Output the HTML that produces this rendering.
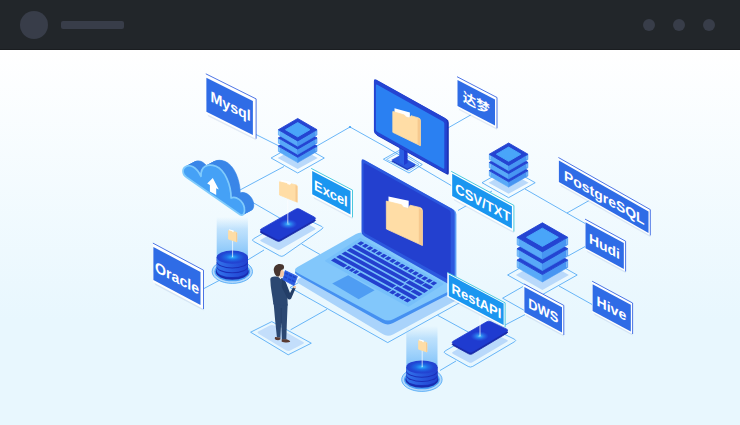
<!DOCTYPE html>
<html lang="zh"><head><meta charset="utf-8"><title>Data sources</title>
<style>
html,body{margin:0;padding:0}
body{width:740px;height:425px;overflow:hidden;background:#e8f7fe;font-family:'Liberation Sans','Noto Sans CJK SC',sans-serif;position:relative}
.hd{position:absolute;left:0;top:0;width:740px;height:49px;background:#22262a;border-bottom:1px solid #1a1d20}
.av{position:absolute;left:20px;top:11px;width:28px;height:28px;border-radius:50%;background:#383d49}
.bar{position:absolute;left:61px;top:21px;width:63px;height:8px;border-radius:2px;background:#383d49}
.dot{position:absolute;top:19px;width:12px;height:12px;border-radius:50%;background:#383d49}
.main{position:absolute;left:0;top:50px;width:740px;height:375px;background:linear-gradient(180deg,#ffffff 0%,#e8f7fe 72%,#e8f7fe 100%)}
svg{position:absolute;left:0;top:0}
text{font-family:'Liberation Sans','Noto Sans CJK SC',sans-serif}
</style></head><body>
<div class="hd"><div class="av"></div><div class="bar"></div>
<div class="dot" style="left:643px"></div><div class="dot" style="left:673px"></div><div class="dot" style="left:703px"></div></div>
<div class="main"></div>
<svg width="740" height="425" viewBox="0 0 740 425">
<defs>
<radialGradient id="glow"><stop offset="0" stop-color="#7fd4ff"/><stop offset="0.25" stop-color="#2f9bf5" stop-opacity="0.9"/><stop offset="1" stop-color="#2a6cf0" stop-opacity="0"/></radialGradient>
<radialGradient id="dbtop"><stop offset="0" stop-color="#5fd0ff"/><stop offset="0.12" stop-color="#2a9cf5"/><stop offset="0.4" stop-color="#1d6be6"/><stop offset="0.75" stop-color="#2148d4"/><stop offset="1" stop-color="#2340cf"/></radialGradient>
<linearGradient id="dbside" x1="0" x2="1" y1="0" y2="0"><stop offset="0" stop-color="#3273ea"/><stop offset="0.5" stop-color="#2858de"/><stop offset="1" stop-color="#2041cf"/></linearGradient>
<linearGradient id="beam" x1="0" x2="0" y1="0" y2="1"><stop offset="0" stop-color="#a8d6fb" stop-opacity="0"/><stop offset="0.3" stop-color="#a0d2fb" stop-opacity="0.6"/><stop offset="1" stop-color="#78bef9" stop-opacity="0.95"/></linearGradient>
</defs>
<polyline points="253.0,133.0 280.0,146.5" fill="none" stroke="#45a3f5" stroke-width="0.8"/>
<polyline points="316.0,146.5 350.0,127.0 384.0,146.0 452.0,186.0" fill="none" stroke="#45a3f5" stroke-width="0.8"/>
<circle cx="350" cy="127" r="1.1" fill="#45a3f5"/>
<polyline points="471.5,114.5 447.0,128.5" fill="none" stroke="#45a3f5" stroke-width="0.8"/>
<polyline points="240.0,190.0 284.0,166.5" fill="none" stroke="#45a3f5" stroke-width="0.8"/>
<polyline points="252.0,202.0 290.0,224.0" fill="none" stroke="#45a3f5" stroke-width="0.8"/>
<polyline points="301.6,244.0 320.0,254.5" fill="none" stroke="#45a3f5" stroke-width="0.8"/>
<polyline points="264.0,250.0 246.0,261.0" fill="none" stroke="#45a3f5" stroke-width="0.8"/>
<polyline points="204.0,288.5 220.0,280.0" fill="none" stroke="#45a3f5" stroke-width="0.8"/>
<polyline points="492.0,191.0 458.0,210.5" fill="none" stroke="#45a3f5" stroke-width="0.8"/>
<polyline points="525.0,189.0 586.0,224.0" fill="none" stroke="#45a3f5" stroke-width="0.8"/>
<polyline points="567.0,213.0 590.0,200.0" fill="none" stroke="#45a3f5" stroke-width="0.8"/>
<polyline points="568.0,256.0 586.0,246.0" fill="none" stroke="#45a3f5" stroke-width="0.8"/>
<polyline points="559.0,286.0 593.0,305.0" fill="none" stroke="#45a3f5" stroke-width="0.8"/>
<polyline points="523.0,286.5 502.6,298.2 525.0,310.8" fill="none" stroke="#45a3f5" stroke-width="0.8"/>
<polyline points="504.0,325.6 525.0,314.6" fill="none" stroke="#45a3f5" stroke-width="0.8"/>
<polyline points="437.6,315.3 470.0,333.0" fill="none" stroke="#45a3f5" stroke-width="0.8"/>
<polyline points="440.0,370.5 456.0,361.0" fill="none" stroke="#45a3f5" stroke-width="0.8"/>
<polyline points="290.6,329.8 327.0,309.3" fill="none" stroke="#45a3f5" stroke-width="0.8"/>
<polygon points="271.1,158.0 297.7,143.0 324.3,158.0 297.7,173.0" fill="none" stroke="#45a3f5" stroke-width="0.8" stroke-linejoin="round"/>
<polygon points="277.7,158.0 297.7,147.0 317.7,158.0 297.7,169.0" fill="#b9d9fb" />
<polygon points="278.4,146.1 297.7,157.3 297.7,162.6 278.4,151.4" fill="#58a9f8" stroke="#58a9f8" stroke-width="0.6" stroke-linejoin="round"/>
<polygon points="317.0,146.1 297.7,157.3 297.7,162.6 317.0,151.4" fill="#4795f2" stroke="#4795f2" stroke-width="0.6" stroke-linejoin="round"/>
<line x1="279.4" y1="147.9" x2="279.4" y2="151.2" stroke="#b4dbfc" stroke-width="0.6"/>
<line x1="316.0" y1="147.9" x2="316.0" y2="151.2" stroke="#b4dbfc" stroke-width="0.6"/>
<polygon points="278.4,146.1 297.7,134.9 317.0,146.1 297.7,157.3" fill="#2444d2" stroke="#2444d2" stroke-width="0.9" stroke-linejoin="round"/>
<polygon points="278.4,137.9 297.7,149.1 297.7,154.4 278.4,143.2" fill="#58a9f8" stroke="#58a9f8" stroke-width="0.6" stroke-linejoin="round"/>
<polygon points="317.0,137.9 297.7,149.1 297.7,154.4 317.0,143.2" fill="#4795f2" stroke="#4795f2" stroke-width="0.6" stroke-linejoin="round"/>
<line x1="279.4" y1="139.7" x2="279.4" y2="143.0" stroke="#b4dbfc" stroke-width="0.6"/>
<line x1="316.0" y1="139.7" x2="316.0" y2="143.0" stroke="#b4dbfc" stroke-width="0.6"/>
<polygon points="278.4,137.9 297.7,126.7 317.0,137.9 297.7,149.1" fill="#2444d2" stroke="#2444d2" stroke-width="0.9" stroke-linejoin="round"/>
<polygon points="278.4,129.7 297.7,140.9 297.7,146.2 278.4,135.0" fill="#58a9f8" stroke="#58a9f8" stroke-width="0.6" stroke-linejoin="round"/>
<polygon points="317.0,129.7 297.7,140.9 297.7,146.2 317.0,135.0" fill="#4795f2" stroke="#4795f2" stroke-width="0.6" stroke-linejoin="round"/>
<line x1="279.4" y1="131.5" x2="279.4" y2="134.8" stroke="#b4dbfc" stroke-width="0.6"/>
<line x1="316.0" y1="131.5" x2="316.0" y2="134.8" stroke="#b4dbfc" stroke-width="0.6"/>
<polygon points="278.4,129.7 297.7,118.5 317.0,129.7 297.7,140.9" fill="#2444d2" stroke="#2444d2" stroke-width="0.9" stroke-linejoin="round"/>
<polygon points="285.5,129.7 297.7,122.6 309.9,129.7 297.7,136.8" fill="#49a5f9" stroke="#49a5f9" stroke-width="1" stroke-linejoin="round"/>
<polygon points="482.0,182.7 508.6,167.7 535.2,182.7 508.6,197.7" fill="none" stroke="#45a3f5" stroke-width="0.8" stroke-linejoin="round"/>
<polygon points="488.6,182.7 508.6,171.7 528.6,182.7 508.6,193.7" fill="#b9d9fb" />
<polygon points="489.3,170.6 508.6,181.8 508.6,187.1 489.3,175.9" fill="#58a9f8" stroke="#58a9f8" stroke-width="0.6" stroke-linejoin="round"/>
<polygon points="527.9,170.6 508.6,181.8 508.6,187.1 527.9,175.9" fill="#4795f2" stroke="#4795f2" stroke-width="0.6" stroke-linejoin="round"/>
<line x1="490.3" y1="172.4" x2="490.3" y2="175.7" stroke="#b4dbfc" stroke-width="0.6"/>
<line x1="526.9" y1="172.4" x2="526.9" y2="175.7" stroke="#b4dbfc" stroke-width="0.6"/>
<polygon points="489.3,170.6 508.6,159.4 527.9,170.6 508.6,181.8" fill="#2444d2" stroke="#2444d2" stroke-width="0.9" stroke-linejoin="round"/>
<polygon points="489.3,162.4 508.6,173.6 508.6,178.9 489.3,167.7" fill="#58a9f8" stroke="#58a9f8" stroke-width="0.6" stroke-linejoin="round"/>
<polygon points="527.9,162.4 508.6,173.6 508.6,178.9 527.9,167.7" fill="#4795f2" stroke="#4795f2" stroke-width="0.6" stroke-linejoin="round"/>
<line x1="490.3" y1="164.2" x2="490.3" y2="167.5" stroke="#b4dbfc" stroke-width="0.6"/>
<line x1="526.9" y1="164.2" x2="526.9" y2="167.5" stroke="#b4dbfc" stroke-width="0.6"/>
<polygon points="489.3,162.4 508.6,151.2 527.9,162.4 508.6,173.6" fill="#2444d2" stroke="#2444d2" stroke-width="0.9" stroke-linejoin="round"/>
<polygon points="489.3,154.2 508.6,165.4 508.6,170.7 489.3,159.5" fill="#58a9f8" stroke="#58a9f8" stroke-width="0.6" stroke-linejoin="round"/>
<polygon points="527.9,154.2 508.6,165.4 508.6,170.7 527.9,159.5" fill="#4795f2" stroke="#4795f2" stroke-width="0.6" stroke-linejoin="round"/>
<line x1="490.3" y1="156.0" x2="490.3" y2="159.3" stroke="#b4dbfc" stroke-width="0.6"/>
<line x1="526.9" y1="156.0" x2="526.9" y2="159.3" stroke="#b4dbfc" stroke-width="0.6"/>
<polygon points="489.3,154.2 508.6,143.0 527.9,154.2 508.6,165.4" fill="#2444d2" stroke="#2444d2" stroke-width="0.9" stroke-linejoin="round"/>
<polygon points="496.4,154.2 508.6,147.1 520.8,154.2 508.6,161.3" fill="#49a5f9" stroke="#49a5f9" stroke-width="1" stroke-linejoin="round"/>
<polygon points="383.4,159.2 399.0,150.5 422.3,164.5 409.0,173.0" fill="none" stroke="#45a3f5" stroke-width="0.8"/>
<polygon points="386.5,159.4 399.0,152.4 419.0,164.4 408.8,170.8" fill="none" stroke="#45a3f5" stroke-width="0.6"/>
<polygon points="391.2,161.2 399.5,156.7 415.8,165.8 407.2,170.0" fill="#1b34b8" />
<polygon points="391.2,160.0 399.5,155.5 415.8,164.6 407.2,168.8" fill="#2a55de" />
<polygon points="399.3,140.0 404.0,142.0 404.0,165.0 399.3,162.6" fill="#2b5fe3" />
<polygon points="404.0,142.0 407.6,140.0 407.6,163.0 404.0,165.0" fill="#1f3bd0" />
<path d="M375.4,81.9 Q375.4,79.4 377.6,80.7 L446.6,119.1 Q448.8,120.3 448.8,122.8 L448.8,173.0 Q448.8,175.5 446.6,174.3 L377.6,135.9 Q375.4,134.6 375.4,132.1 Z" fill="#1b34b8" />
<path d="M373.9,80.9 Q373.9,78.4 376.1,79.6 L444.7,117.8 Q446.9,119.1 446.9,121.6 L446.9,171.6 Q446.9,174.1 444.7,172.8 L376.1,134.6 Q373.9,133.4 373.9,130.9 Z" fill="#2444d2" />
<path d="M375.9,85.5 Q375.9,84.0 377.2,84.7 L443.0,121.4 Q444.3,122.1 444.3,123.6 L444.3,167.7 Q444.3,169.2 443.0,168.5 L377.2,131.8 Q375.9,131.1 375.9,129.6 Z" fill="#2a80f2" />
<polygon points="394.5,108.3 409.9,112.5 409.9,118.9 394.5,113.1" fill="#ffffff" />
<path d="M392.8,111.5 L404.4,115.0 L405.8,116.9 L409.4,118.0 L411.0,115.7 L418.5,117.9 Q420.4,118.5 420.4,120.3 L420.4,145.7 L392.8,132.3 Z" fill="#ffdda6" stroke="#ffdda6" stroke-width="0.8" stroke-linejoin="round"/>
<polygon points="417.6,118.2 420.4,120.1 420.4,145.7 417.6,144.0" fill="#f6c98f" />
<path d="M253.5,241.3 Q251.3,240.1 253.5,238.8 L293.8,215.3 Q296.0,214.0 298.2,215.1 L321.8,226.5 Q324.0,227.6 322.0,229.0 L283.9,255.6 Q281.9,257.0 279.7,255.8 Z" fill="none" stroke="#45a3f5" stroke-width="0.8"/>
<path d="M295.7,219.7 Q297.6,218.6 299.5,219.6 L314.6,227.7 Q316.5,228.7 314.6,229.8 L280.7,249.3 Q278.8,250.4 276.8,249.4 L261.3,241.5 Q259.3,240.5 261.2,239.4 Z" fill="#b9d9fb" />
<path d="M295.7,211.2 Q297.6,210.1 299.5,211.1 L314.6,219.2 Q316.5,220.2 314.6,221.3 L280.7,240.8 Q278.8,241.9 276.8,240.9 L261.3,233.0 Q259.3,232.0 261.2,230.9 Z" fill="#1829a8" stroke="#1829a8" stroke-width="0.8"/>
<path d="M295.7,209.2 Q297.6,208.1 299.5,209.1 L314.6,217.2 Q316.5,218.2 314.6,219.3 L280.7,238.8 Q278.8,239.9 276.8,238.9 L261.3,231.0 Q259.3,230.0 261.2,228.9 Z" fill="#1f3bd0" stroke="#1f3bd0" stroke-width="0.8"/>
<ellipse cx="288.2" cy="224.1" rx="9" ry="5" fill="url(#glow)"/>
<line x1="287.8" y1="200" x2="287.8" y2="223.5" stroke="#fff" stroke-width="0.8" opacity="0.9"/>
<polygon points="280.6,179.7 290.5,181.8 290.5,185.8 280.6,182.7" fill="#ffffff" />
<path d="M279.5,181.8 L287.0,183.6 L287.9,184.7 L290.2,185.3 L291.2,183.8 L296.1,184.9 Q297.3,185.2 297.3,186.3 L297.3,202.3 L279.5,195.0 Z" fill="#ffdda6" stroke="#ffdda6" stroke-width="0.8" stroke-linejoin="round"/>
<polygon points="295.5,185.1 297.3,186.2 297.3,202.3 295.5,201.3" fill="#f6c98f" />
<path d="M186.5,177.2 C182.3,174.6 181.8,169 185.5,166.8 C189.5,164.3 196,166 201,176.3 C200.5,166 208,163.3 216,166.3 C225,170 231,185 231.1,198 C236,195.5 243,201 244.3,207.5 C245.2,212.5 243.5,216.2 240.3,214.7 Z" transform="translate(9.20,-4.90)" fill="#3a86e8" stroke="#3a86e8" stroke-width="0.6"/>
<path d="M186.5,177.2 C182.3,174.6 181.8,169 185.5,166.8 C189.5,164.3 196,166 201,176.3 C200.5,166 208,163.3 216,166.3 C225,170 231,185 231.1,198 C236,195.5 243,201 244.3,207.5 C245.2,212.5 243.5,216.2 240.3,214.7 Z" transform="translate(8.54,-4.55)" fill="#3a86e8" stroke="#3a86e8" stroke-width="0.6"/>
<path d="M186.5,177.2 C182.3,174.6 181.8,169 185.5,166.8 C189.5,164.3 196,166 201,176.3 C200.5,166 208,163.3 216,166.3 C225,170 231,185 231.1,198 C236,195.5 243,201 244.3,207.5 C245.2,212.5 243.5,216.2 240.3,214.7 Z" transform="translate(7.89,-4.20)" fill="#3a86e8" stroke="#3a86e8" stroke-width="0.6"/>
<path d="M186.5,177.2 C182.3,174.6 181.8,169 185.5,166.8 C189.5,164.3 196,166 201,176.3 C200.5,166 208,163.3 216,166.3 C225,170 231,185 231.1,198 C236,195.5 243,201 244.3,207.5 C245.2,212.5 243.5,216.2 240.3,214.7 Z" transform="translate(7.23,-3.85)" fill="#3a86e8" stroke="#3a86e8" stroke-width="0.6"/>
<path d="M186.5,177.2 C182.3,174.6 181.8,169 185.5,166.8 C189.5,164.3 196,166 201,176.3 C200.5,166 208,163.3 216,166.3 C225,170 231,185 231.1,198 C236,195.5 243,201 244.3,207.5 C245.2,212.5 243.5,216.2 240.3,214.7 Z" transform="translate(6.57,-3.50)" fill="#3a86e8" stroke="#3a86e8" stroke-width="0.6"/>
<path d="M186.5,177.2 C182.3,174.6 181.8,169 185.5,166.8 C189.5,164.3 196,166 201,176.3 C200.5,166 208,163.3 216,166.3 C225,170 231,185 231.1,198 C236,195.5 243,201 244.3,207.5 C245.2,212.5 243.5,216.2 240.3,214.7 Z" transform="translate(5.91,-3.15)" fill="#3a86e8" stroke="#3a86e8" stroke-width="0.6"/>
<path d="M186.5,177.2 C182.3,174.6 181.8,169 185.5,166.8 C189.5,164.3 196,166 201,176.3 C200.5,166 208,163.3 216,166.3 C225,170 231,185 231.1,198 C236,195.5 243,201 244.3,207.5 C245.2,212.5 243.5,216.2 240.3,214.7 Z" transform="translate(5.26,-2.80)" fill="#3a86e8" stroke="#3a86e8" stroke-width="0.6"/>
<path d="M186.5,177.2 C182.3,174.6 181.8,169 185.5,166.8 C189.5,164.3 196,166 201,176.3 C200.5,166 208,163.3 216,166.3 C225,170 231,185 231.1,198 C236,195.5 243,201 244.3,207.5 C245.2,212.5 243.5,216.2 240.3,214.7 Z" transform="translate(4.60,-2.45)" fill="#3a86e8" stroke="#3a86e8" stroke-width="0.6"/>
<path d="M186.5,177.2 C182.3,174.6 181.8,169 185.5,166.8 C189.5,164.3 196,166 201,176.3 C200.5,166 208,163.3 216,166.3 C225,170 231,185 231.1,198 C236,195.5 243,201 244.3,207.5 C245.2,212.5 243.5,216.2 240.3,214.7 Z" transform="translate(3.94,-2.10)" fill="#3a86e8" stroke="#3a86e8" stroke-width="0.6"/>
<path d="M186.5,177.2 C182.3,174.6 181.8,169 185.5,166.8 C189.5,164.3 196,166 201,176.3 C200.5,166 208,163.3 216,166.3 C225,170 231,185 231.1,198 C236,195.5 243,201 244.3,207.5 C245.2,212.5 243.5,216.2 240.3,214.7 Z" transform="translate(3.29,-1.75)" fill="#3a86e8" stroke="#3a86e8" stroke-width="0.6"/>
<path d="M186.5,177.2 C182.3,174.6 181.8,169 185.5,166.8 C189.5,164.3 196,166 201,176.3 C200.5,166 208,163.3 216,166.3 C225,170 231,185 231.1,198 C236,195.5 243,201 244.3,207.5 C245.2,212.5 243.5,216.2 240.3,214.7 Z" transform="translate(2.63,-1.40)" fill="#3a86e8" stroke="#3a86e8" stroke-width="0.6"/>
<path d="M186.5,177.2 C182.3,174.6 181.8,169 185.5,166.8 C189.5,164.3 196,166 201,176.3 C200.5,166 208,163.3 216,166.3 C225,170 231,185 231.1,198 C236,195.5 243,201 244.3,207.5 C245.2,212.5 243.5,216.2 240.3,214.7 Z" transform="translate(1.97,-1.05)" fill="#3a86e8" stroke="#3a86e8" stroke-width="0.6"/>
<path d="M186.5,177.2 C182.3,174.6 181.8,169 185.5,166.8 C189.5,164.3 196,166 201,176.3 C200.5,166 208,163.3 216,166.3 C225,170 231,185 231.1,198 C236,195.5 243,201 244.3,207.5 C245.2,212.5 243.5,216.2 240.3,214.7 Z" transform="translate(1.31,-0.70)" fill="#3a86e8" stroke="#3a86e8" stroke-width="0.6"/>
<path d="M186.5,177.2 C182.3,174.6 181.8,169 185.5,166.8 C189.5,164.3 196,166 201,176.3 C200.5,166 208,163.3 216,166.3 C225,170 231,185 231.1,198 C236,195.5 243,201 244.3,207.5 C245.2,212.5 243.5,216.2 240.3,214.7 Z" transform="translate(0.66,-0.35)" fill="#3a86e8" stroke="#3a86e8" stroke-width="0.6"/>
<path d="M186.5,177.2 C182.3,174.6 181.8,169 185.5,166.8 C189.5,164.3 196,166 201,176.3 C200.5,166 208,163.3 216,166.3 C225,170 231,185 231.1,198 C236,195.5 243,201 244.3,207.5 C245.2,212.5 243.5,216.2 240.3,214.7 Z" fill="#45a1f6" stroke="#80cbfc" stroke-width="1.7" stroke-linejoin="round"/>
<path d="M212.8,178.0 L218.8,189.4 L216.2,188.2 L216.2,195.0 L209.9,191.6 L209.9,185.0 L207.2,183.6 Z" fill="#fff"/>
<ellipse cx="232.3" cy="271.59999999999997" rx="20.2" ry="11.8" fill="#b4dafc" stroke="#45a3f5" stroke-width="0.8"/>
<ellipse cx="232.3" cy="271.59999999999997" rx="17.9" ry="9.7" fill="#4a9ff5"/>
<ellipse cx="232.3" cy="271.79999999999995" rx="16.5" ry="7.8999999999999995" fill="#1a2cae"/>
<path d="M216.70000000000002,266.76666666666665 L216.70000000000002,271.60 A15.6,6.6 0 0 0 247.9,271.60 L247.9,266.76666666666665 Z" fill="#1a2fb8"/>
<path d="M216.70000000000002,266.76666666666665 L216.70000000000002,270.50 A15.6,6.6 0 0 0 247.9,270.50 L247.9,266.76666666666665 Z" fill="url(#dbside)"/>
<path d="M216.70000000000002,261.93333333333334 L216.70000000000002,266.77 A15.6,6.6 0 0 0 247.9,266.77 L247.9,261.93333333333334 Z" fill="#1a2fb8"/>
<path d="M216.70000000000002,261.93333333333334 L216.70000000000002,265.67 A15.6,6.6 0 0 0 247.9,265.67 L247.9,261.93333333333334 Z" fill="url(#dbside)"/>
<path d="M216.70000000000002,257.1 L216.70000000000002,261.93 A15.6,6.6 0 0 0 247.9,261.93 L247.9,257.1 Z" fill="#1a2fb8"/>
<path d="M216.70000000000002,257.1 L216.70000000000002,260.83 A15.6,6.6 0 0 0 247.9,260.83 L247.9,257.1 Z" fill="url(#dbside)"/>
<path d="M216.70000000000002,217 L247.9,217 L247.9,257.1 L216.70000000000002,257.1 Z" fill="url(#beam)"/>
<ellipse cx="232.3" cy="257.1" rx="15.6" ry="6.6" fill="url(#dbtop)"/>
<line x1="232.60000000000002" y1="240.3" x2="232.60000000000002" y2="257.1" stroke="#fff" stroke-width="0.8" opacity="0.9"/>
<polygon points="229.0,229.2 233.7,230.5 233.7,232.9 229.0,231.1" fill="#ffffff" />
<path d="M228.5,230.6 L232.0,231.6 L232.4,232.2 L233.5,232.6 L234.0,231.7 L236.3,232.3 Q236.9,232.5 236.9,233.2 L236.9,241.9 L228.5,239.1 Z" fill="#ffdda6" stroke="#ffdda6" stroke-width="0.8" stroke-linejoin="round"/>
<polygon points="236.1,232.5 236.9,233.1 236.9,241.9 236.1,241.5" fill="#f6c98f" />
<polygon points="290.0,287.5 361.0,246.5 463.0,300.8 387.7,342.6" fill="none" stroke="#45a3f5" stroke-width="0.8" stroke-linejoin="round"/>
<path d="M299.6,284.1 Q294.5,281.0 299.7,278.1 L355.8,246.9 Q361.0,244.0 366.2,247.0 L452.8,296.5 Q458.0,299.5 452.7,302.3 L393.0,334.4 Q387.7,337.2 382.6,334.1 Z" fill="#a9d3fb" />
<path d="M297.5,275.3 Q292.3,272.4 297.5,269.4 L356.0,236.4 Q361.2,233.4 366.4,236.3 L454.3,285.7 Q459.5,288.6 454.2,291.4 L393.1,323.0 Q387.8,325.8 382.6,322.9 Z" fill="#4590f1" />
<path d="M297.6,272.9 Q292.3,270.0 297.5,267.0 L356.0,234.0 Q361.2,231.0 366.4,233.9 L454.3,283.1 Q459.5,286.0 454.1,288.7 L393.2,319.3 Q387.8,322.0 382.5,319.1 Z" fill="#82c7fb" />
<polygon points="332.2,283.6 348.2,275.2 374.6,290.2 358.6,299.2" fill="#4f9df3" />
<polygon points="360.3,238.6 442.8,283.9 408.3,306.1 325.8,260.8" fill="#76bffa" stroke="#76bffa" stroke-width="1.5" stroke-linejoin="round"/>
<polygon points="361.0,241.2 364.3,243.0 360.6,245.4 357.3,243.6" fill="#2340cf" />
<polygon points="365.6,243.7 368.8,245.5 365.2,247.9 361.9,246.1" fill="#2340cf" />
<polygon points="370.1,246.2 373.4,248.0 369.7,250.4 366.4,248.6" fill="#2340cf" />
<polygon points="374.7,248.7 378.0,250.5 374.3,252.9 371.0,251.1" fill="#2340cf" />
<polygon points="379.2,251.2 382.5,253.0 378.8,255.4 375.5,253.6" fill="#2340cf" />
<polygon points="383.8,253.7 387.1,255.5 383.4,257.9 380.1,256.1" fill="#2340cf" />
<polygon points="388.4,256.2 391.6,258.0 387.9,260.4 384.7,258.6" fill="#2340cf" />
<polygon points="392.9,258.7 396.2,260.5 392.5,262.9 389.2,261.1" fill="#2340cf" />
<polygon points="397.5,261.2 400.8,263.0 397.1,265.4 393.8,263.6" fill="#2340cf" />
<polygon points="402.0,263.7 405.3,265.5 401.6,267.9 398.3,266.1" fill="#2340cf" />
<polygon points="406.6,266.2 409.9,268.0 406.2,270.4 402.9,268.6" fill="#2340cf" />
<polygon points="411.1,268.7 414.4,270.5 410.7,272.9 407.5,271.1" fill="#2340cf" />
<polygon points="415.7,271.2 419.0,273.0 415.3,275.4 412.0,273.6" fill="#2340cf" />
<polygon points="420.3,273.7 423.5,275.5 419.9,277.9 416.6,276.1" fill="#2340cf" />
<polygon points="424.8,276.2 428.1,278.0 424.4,280.4 421.1,278.6" fill="#2340cf" />
<polygon points="429.4,278.7 432.7,280.5 429.0,282.9 425.7,281.1" fill="#2340cf" />
<polygon points="433.9,281.2 437.2,283.0 433.5,285.4 430.3,283.6" fill="#2340cf" />
<polygon points="355.7,244.6 416.6,278.0 412.9,280.4 352.0,247.0" fill="#2340cf" />
<polygon points="417.7,278.6 424.7,282.5 421.0,284.8 414.0,281.0" fill="#2340cf" />
<polygon points="425.5,282.9 433.2,287.1 429.5,289.5 421.8,285.3" fill="#2340cf" />
<polygon points="350.5,248.0 408.2,279.7 404.5,282.1 346.8,250.4" fill="#2340cf" />
<polygon points="409.4,280.3 428.0,290.5 424.3,292.9 405.7,282.7" fill="#2340cf" />
<polygon points="345.2,251.4 404.5,283.9 400.8,286.3 341.5,253.7" fill="#2340cf" />
<polygon points="405.6,284.6 413.3,288.8 409.6,291.1 402.0,286.9" fill="#2340cf" />
<polygon points="414.2,289.2 422.7,293.9 419.0,296.3 410.5,291.6" fill="#2340cf" />
<polygon points="339.9,254.8 396.1,285.6 392.4,288.0 336.2,257.1" fill="#2340cf" />
<polygon points="397.3,286.2 417.4,297.3 413.7,299.7 393.6,288.6" fill="#2340cf" />
<polygon points="334.6,258.1 347.4,265.2 343.7,267.5 331.0,260.5" fill="#2340cf" />
<polygon points="348.6,265.8 351.5,267.4 347.9,269.8 344.9,268.2" fill="#2340cf" />
<polygon points="352.5,267.9 355.4,269.6 351.7,271.9 348.8,270.3" fill="#2340cf" />
<polygon points="356.3,270.1 359.3,271.7 355.6,274.1 352.7,272.4" fill="#2340cf" />
<polygon points="360.6,272.4 391.6,289.4 387.9,291.8 356.9,274.8" fill="#2340cf" />
<polygon points="392.8,290.1 396.5,292.1 392.8,294.5 389.1,292.4" fill="#2340cf" />
<polygon points="397.7,292.7 401.4,294.8 397.7,297.2 394.0,295.1" fill="#2340cf" />
<polygon points="402.5,295.4 406.3,297.5 402.6,299.8 398.9,297.8" fill="#2340cf" />
<polygon points="407.4,298.1 411.1,300.1 407.5,302.5 403.7,300.5" fill="#2340cf" />
<path d="M363.3,162.4 Q363.3,159.4 365.9,160.9 L453.8,209.8 Q456.4,211.3 456.4,214.3 L456.4,285.5 Q456.4,288.5 453.8,287.0 L365.9,237.1 Q363.3,235.6 363.3,232.6 Z" fill="#5b9df5" />
<path d="M361.5,161.2 Q361.5,158.2 364.1,159.7 L452.1,208.7 Q454.7,210.1 454.7,213.1 L454.7,284.5 Q454.7,287.5 452.1,286.0 L364.1,236.1 Q361.5,234.6 361.5,231.6 Z" fill="#2c58de" />
<path d="M363.5,164.5 Q363.5,162.5 365.2,163.5 L449.0,210.1 Q450.7,211.1 450.7,213.1 L450.7,279.1 Q450.7,281.1 449.0,280.1 L365.2,233.5 Q363.5,232.5 363.5,230.5 Z" fill="#2340cf" />
<polygon points="388.5,196.6 408.7,200.8 408.7,209.6 388.5,203.1" fill="#ffffff" />
<path d="M386.3,201.1 L401.5,204.8 L403.3,207.2 L408.0,208.4 L410.1,205.2 L419.9,207.5 Q422.4,208.1 422.4,210.6 L422.4,245.5 L386.4,229.0 Z" fill="#ffdda6" stroke="#ffdda6" stroke-width="0.8" stroke-linejoin="round"/>
<polygon points="418.8,207.9 422.4,210.3 422.4,245.5 418.8,243.3" fill="#f6c98f" />
<polygon points="250.6,332.2 271.8,321.6 311.3,343.2 288.2,354.8" fill="none" stroke="#45a3f5" stroke-width="0.8" stroke-linejoin="round"/>
<path d="M258.6,333.7 Q256.5,332.4 258.7,331.3 L269.8,325.5 Q272.0,324.4 274.2,325.6 L302.8,341.8 Q305.0,343.0 302.8,344.1 L290.2,350.5 Q288.0,351.6 285.9,350.3 Z" fill="#c3defb" />
<path d="M273.6,303 L287.6,304.5 L286.9,322 L286.3,339.6 L281.9,339.8 L281.2,323 L280.4,337.6 L276.9,337.2 L275.1,320 Z" fill="#2b4872"/>
<path d="M281.2,308 L281.2,323" stroke="#223c63" stroke-width="0.6"/>
<path d="M275,337 L280.5,337.6 L280.3,339.6 C278.5,340.6 276,340.3 274.8,339 Z" fill="#5a3b32"/>
<path d="M281.8,339.2 L286.4,339.2 C288.5,340 290.4,340.6 290.2,341.8 C288,342.8 283.5,342.4 281.6,341.4 Z" fill="#5a3b32"/>
<path d="M270.3,279.4 C270.4,276.6 274,276 278,277 L282.6,278.2 C285,279.6 286.6,284 287,290 L287.8,305.5 L273.4,304.6 C272.6,296 270.4,288 270.3,279.4 Z" fill="#2b4872"/>
<path d="M278.2,276.6 L281.8,277.8 L280.6,279.2 Z" fill="#e9eef5"/>
<path d="M282.2,279 C284.5,279.5 285.5,281.5 286.5,284 L290,293 L293.4,286.6 L295.6,288.2 L291.2,298.6 C290,300.2 288,299.6 287.2,298 L281.6,287 Z" fill="#233e67"/>
<polygon points="285.2,270.6 297.4,276.4 294.0,285.6 282.8,279.6" fill="#2a5be0" stroke="#2a5be0" stroke-width="0.8" stroke-linejoin="round"/>
<polygon points="285.6,272.2 288.2,273.5 287.7,275.0 285.1,273.7" fill="#1f44c8" />
<polygon points="289.5,274.1 292.1,275.4 291.6,276.9 289.0,275.6" fill="#1f44c8" />
<polygon points="293.2,275.8 295.8,277.1 295.3,278.6 292.7,277.3" fill="#1f44c8" />
<polygon points="284.6,276.0 287.2,277.3 286.7,278.8 284.1,277.5" fill="#1f44c8" />
<polygon points="288.5,277.9 291.1,279.2 290.6,280.7 288.0,279.4" fill="#1f44c8" />
<polygon points="292.2,279.6 294.8,280.9 294.3,282.4 291.7,281.1" fill="#1f44c8" />
<ellipse cx="281.3" cy="273.4" rx="2.7" ry="3.7" fill="#f1c6a6"/>
<path d="M273.8,270.6 C273.2,265.6 278.4,262.6 282.6,264.6 C284.6,265.8 284.4,268.2 283.2,269.4 C281.4,269.2 280.4,270.6 280.2,273.2 C280.2,275 279.4,276.4 278.2,276.8 C275.8,276.6 274.2,274 273.8,270.6 Z" fill="#46352f"/>
<ellipse cx="294.6" cy="287.0" rx="1.5" ry="1.3" fill="#f1c6a6"/>
<polygon points="507.6,275.0 542.4,255.4 577.2,275.0 542.4,294.6" fill="none" stroke="#45a3f5" stroke-width="0.8" stroke-linejoin="round"/>
<polygon points="515.9,275.0 542.4,260.0 568.9,275.0 542.4,290.0" fill="#b9d9fb" />
<polygon points="517.1,260.1 542.4,274.6 542.4,282.0 517.1,267.5" fill="#58a9f8" stroke="#58a9f8" stroke-width="0.6" stroke-linejoin="round"/>
<polygon points="567.7,260.1 542.4,274.6 542.4,282.0 567.7,267.5" fill="#4795f2" stroke="#4795f2" stroke-width="0.6" stroke-linejoin="round"/>
<line x1="518.1" y1="261.9" x2="518.1" y2="267.3" stroke="#b4dbfc" stroke-width="0.6"/>
<line x1="566.7" y1="261.9" x2="566.7" y2="267.3" stroke="#b4dbfc" stroke-width="0.6"/>
<polygon points="517.1,260.1 542.4,245.6 567.7,260.1 542.4,274.6" fill="#2444d2" stroke="#2444d2" stroke-width="0.9" stroke-linejoin="round"/>
<polygon points="517.1,248.7 542.4,263.2 542.4,270.6 517.1,256.1" fill="#58a9f8" stroke="#58a9f8" stroke-width="0.6" stroke-linejoin="round"/>
<polygon points="567.7,248.7 542.4,263.2 542.4,270.6 567.7,256.1" fill="#4795f2" stroke="#4795f2" stroke-width="0.6" stroke-linejoin="round"/>
<line x1="518.1" y1="250.5" x2="518.1" y2="255.9" stroke="#b4dbfc" stroke-width="0.6"/>
<line x1="566.7" y1="250.5" x2="566.7" y2="255.9" stroke="#b4dbfc" stroke-width="0.6"/>
<polygon points="517.1,248.7 542.4,234.2 567.7,248.7 542.4,263.2" fill="#2444d2" stroke="#2444d2" stroke-width="0.9" stroke-linejoin="round"/>
<polygon points="517.1,237.3 542.4,251.8 542.4,259.2 517.1,244.7" fill="#58a9f8" stroke="#58a9f8" stroke-width="0.6" stroke-linejoin="round"/>
<polygon points="567.7,237.3 542.4,251.8 542.4,259.2 567.7,244.7" fill="#4795f2" stroke="#4795f2" stroke-width="0.6" stroke-linejoin="round"/>
<line x1="518.1" y1="239.1" x2="518.1" y2="244.5" stroke="#b4dbfc" stroke-width="0.6"/>
<line x1="566.7" y1="239.1" x2="566.7" y2="244.5" stroke="#b4dbfc" stroke-width="0.6"/>
<polygon points="517.1,237.3 542.4,222.8 567.7,237.3 542.4,251.8" fill="#2444d2" stroke="#2444d2" stroke-width="0.9" stroke-linejoin="round"/>
<polygon points="526.5,237.3 542.4,228.2 558.3,237.3 542.4,246.4" fill="#49a5f9" stroke="#49a5f9" stroke-width="1" stroke-linejoin="round"/>
<path d="M445.2,353.4 Q443.0,352.2 445.2,350.9 L485.8,327.3 Q488.0,326.0 490.2,327.1 L514.6,339.3 Q516.8,340.4 514.6,341.7 L472.7,366.4 Q470.5,367.7 468.3,366.5 Z" fill="none" stroke="#45a3f5" stroke-width="0.8"/>
<path d="M486.7,332.3 Q488.6,331.2 490.6,332.1 L506.8,339.7 Q508.8,340.6 506.9,341.7 L472.4,362.3 Q470.5,363.4 468.6,362.3 L453.1,353.9 Q451.2,352.8 453.1,351.7 Z" fill="#b9d9fb" />
<path d="M486.7,323.8 Q488.6,322.7 490.6,323.6 L506.8,331.2 Q508.8,332.1 506.9,333.2 L472.4,353.8 Q470.5,354.9 468.6,353.8 L453.1,345.4 Q451.2,344.3 453.1,343.2 Z" fill="#1829a8" stroke="#1829a8" stroke-width="0.8"/>
<path d="M486.7,321.8 Q488.6,320.7 490.6,321.6 L506.8,329.2 Q508.8,330.1 506.9,331.2 L472.4,351.8 Q470.5,352.9 468.6,351.8 L453.1,343.4 Q451.2,342.3 453.1,341.2 Z" fill="#1f3bd0" stroke="#1f3bd0" stroke-width="0.8"/>
<ellipse cx="479.6" cy="336.2" rx="9" ry="5" fill="url(#glow)"/>
<line x1="480" y1="316" x2="480" y2="336" stroke="#fff" stroke-width="0.8" opacity="0.9"/>
<ellipse cx="421.9" cy="379.59999999999997" rx="20.2" ry="11.8" fill="#b4dafc" stroke="#45a3f5" stroke-width="0.8"/>
<ellipse cx="421.9" cy="379.59999999999997" rx="17.9" ry="9.7" fill="#4a9ff5"/>
<ellipse cx="421.9" cy="379.79999999999995" rx="16.5" ry="7.8999999999999995" fill="#1a2cae"/>
<path d="M406.29999999999995,375.4 L406.29999999999995,379.60 A15.6,6.6 0 0 0 437.5,379.60 L437.5,375.4 Z" fill="#1a2fb8"/>
<path d="M406.29999999999995,375.4 L406.29999999999995,378.50 A15.6,6.6 0 0 0 437.5,378.50 L437.5,375.4 Z" fill="url(#dbside)"/>
<path d="M406.29999999999995,371.2 L406.29999999999995,375.40 A15.6,6.6 0 0 0 437.5,375.40 L437.5,371.2 Z" fill="#1a2fb8"/>
<path d="M406.29999999999995,371.2 L406.29999999999995,374.30 A15.6,6.6 0 0 0 437.5,374.30 L437.5,371.2 Z" fill="url(#dbside)"/>
<path d="M406.29999999999995,367.0 L406.29999999999995,371.20 A15.6,6.6 0 0 0 437.5,371.20 L437.5,367.0 Z" fill="#1a2fb8"/>
<path d="M406.29999999999995,367.0 L406.29999999999995,370.10 A15.6,6.6 0 0 0 437.5,370.10 L437.5,367.0 Z" fill="url(#dbside)"/>
<path d="M406.29999999999995,326 L437.5,326 L437.5,367 L406.29999999999995,367 Z" fill="url(#beam)"/>
<ellipse cx="421.9" cy="367" rx="15.6" ry="6.6" fill="url(#dbtop)"/>
<line x1="422.2" y1="350.4" x2="422.2" y2="367" stroke="#fff" stroke-width="0.8" opacity="0.9"/>
<polygon points="419.1,339.3 423.8,340.6 423.8,343.0 419.1,341.2" fill="#ffffff" />
<path d="M418.6,340.7 L422.1,341.7 L422.5,342.3 L423.6,342.7 L424.1,341.8 L426.4,342.4 Q427.0,342.6 427.0,343.3 L427.0,352.0 L418.6,349.2 Z" fill="#ffdda6" stroke="#ffdda6" stroke-width="0.8" stroke-linejoin="round"/>
<polygon points="426.2,342.6 427.0,343.2 427.0,352.0 426.2,351.6" fill="#f6c98f" />
<polygon points="206.4,111.7 256.1,136.5 256.1,140.2 208.4,116.4" fill="rgba(120,150,200,0.18)" />
<polygon points="205.8,73.8 256.1,98.9 256.1,138.7 205.8,113.6" fill="#fff" />
<polyline points="205.8,73.8 256.1,98.9 256.1,138.7" fill="none" stroke="#2d5ce0" stroke-width="0.85"/>
<polygon points="206.4,77.7 252.9,100.9 252.9,134.9 206.4,111.7" fill="#2f6ce6" />
<text transform="matrix(1 0.498 0 1 206.4 77.7)" x="4.0" y="21.6" font-size="15" textLength="40.4" lengthAdjust="spacingAndGlyphs" fill="#fff" font-weight="700">Mysql</text>
<polygon points="457.5,106.0 497.0,126.5 497.0,129.8 459.5,110.3" fill="rgba(120,150,200,0.18)" />
<polygon points="457.0,76.7 497.0,97.5 497.0,128.3 457.0,107.5" fill="#fff" />
<polyline points="457.0,76.7 497.0,97.5 497.0,128.3" fill="none" stroke="#2d5ce0" stroke-width="0.85"/>
<polygon points="457.5,80.0 495.0,99.5 495.0,125.5 457.5,106.0" fill="#2f6ce6" />
<text transform="matrix(1 0.52 0 1 457.5 80)" x="5.3" y="18.2" font-size="13.5" textLength="27" lengthAdjust="spacingAndGlyphs" fill="#fff" font-weight="700">达梦</text>
<polygon points="312.2,194.2 352.5,215.4 352.5,218.9 314.2,198.8" fill="rgba(120,150,200,0.18)" />
<polygon points="311.2,168.4 352.5,190.1 352.5,217.4 311.2,195.7" fill="#fff" />
<polyline points="311.2,168.4 352.5,190.1 352.5,217.4" fill="none" stroke="#2bbfd8" stroke-width="0.85"/>
<polygon points="312.2,170.9 350.5,191.1 350.5,214.4 312.2,194.2" fill="#1a96f0" />
<text transform="matrix(1 0.527 0 1 312.2 170.9)" x="1.9" y="17.6" font-size="14" textLength="33.6" lengthAdjust="spacingAndGlyphs" fill="#fff" font-weight="700">Excel</text>
<polygon points="452.2,196.0 513.9,229.6 513.9,233.1 454.2,200.6" fill="rgba(120,150,200,0.18)" />
<polygon points="451.2,171.3 513.9,205.4 513.9,231.6 451.2,197.5" fill="#fff" />
<polyline points="451.2,171.3 513.9,205.4 513.9,231.6" fill="none" stroke="#2bbfd8" stroke-width="0.85"/>
<polygon points="452.2,173.8 511.9,206.3 511.9,228.5 452.2,196.0" fill="#1a96f0" />
<text transform="matrix(1 0.544 0 1 452.2 173.8)" x="3.0" y="17.2" font-size="14" textLength="55.2" lengthAdjust="spacingAndGlyphs" fill="#fff" font-weight="700">CSV/TXT</text>
<polygon points="558.9,182.1 650.3,233.9 650.3,236.9 560.9,186.2" fill="rgba(120,150,200,0.18)" />
<polygon points="558.4,157.5 650.3,209.6 650.3,235.4 558.4,183.3" fill="#fff" />
<polyline points="558.4,157.5 650.3,209.6 650.3,235.4" fill="none" stroke="#2d5ce0" stroke-width="0.85"/>
<polygon points="558.9,160.6 648.5,211.4 648.5,232.9 558.9,182.1" fill="#2f6ce6" />
<text transform="matrix(1 0.567 0 1 558.9 160.6)" x="5.2" y="16.2" font-size="14" textLength="80.4" lengthAdjust="spacingAndGlyphs" fill="#fff" font-weight="700">PostgreSQL</text>
<polygon points="585.5,248.2 625.6,270.0 625.6,273.0 587.5,252.3" fill="rgba(120,150,200,0.18)" />
<polygon points="585.0,219.1 625.6,241.2 625.6,271.5 585.0,249.4" fill="#fff" />
<polyline points="585.0,219.1 625.6,241.2 625.6,271.5" fill="none" stroke="#2d5ce0" stroke-width="0.85"/>
<polygon points="585.5,222.2 623.8,243.0 623.8,269.0 585.5,248.2" fill="#2f6ce6" />
<text transform="matrix(1 0.544 0 1 585.5 222.2)" x="3.4" y="18.6" font-size="14" textLength="31" lengthAdjust="spacingAndGlyphs" fill="#fff" font-weight="700">Hudi</text>
<polygon points="592.6,311.0 632.6,332.5 632.6,335.5 594.6,315.1" fill="rgba(120,150,200,0.18)" />
<polygon points="592.1,281.2 632.6,303.0 632.6,334.0 592.1,312.2" fill="#fff" />
<polyline points="592.1,281.2 632.6,303.0 632.6,334.0" fill="none" stroke="#2d5ce0" stroke-width="0.85"/>
<polygon points="592.6,284.3 630.8,304.8 630.8,331.5 592.6,311.0" fill="#2f6ce6" />
<text transform="matrix(1 0.537 0 1 592.6 284.3)" x="3.9" y="18.8" font-size="14" textLength="29.8" lengthAdjust="spacingAndGlyphs" fill="#fff" font-weight="700">Hive</text>
<polygon points="524.4,312.3 563.8,333.5 563.8,336.5 526.4,316.4" fill="rgba(120,150,200,0.18)" />
<polygon points="523.9,283.9 563.8,305.4 563.8,335.0 523.9,313.5" fill="#fff" />
<polyline points="523.9,283.9 563.8,305.4 563.8,335.0" fill="none" stroke="#2d5ce0" stroke-width="0.85"/>
<polygon points="524.4,287.0 562.0,307.2 562.0,332.5 524.4,312.3" fill="#2f6ce6" />
<text transform="matrix(1 0.537 0 1 524.4 287)" x="3.8" y="18.4" font-size="14" textLength="30.2" lengthAdjust="spacingAndGlyphs" fill="#fff" font-weight="700">DWS</text>
<polygon points="448.8,296.1 505.1,325.8 505.1,328.8 450.8,300.2" fill="rgba(120,150,200,0.18)" />
<polygon points="447.3,272.3 505.1,302.8 505.1,327.3 447.3,296.8" fill="#fff" />
<polyline points="447.3,272.3 505.1,302.8 505.1,327.3" fill="none" stroke="#2bbfd8" stroke-width="0.85"/>
<polygon points="448.8,274.6 503.6,303.5 503.6,325.0 448.8,296.1" fill="#1a96f0" />
<text transform="matrix(1 0.527 0 1 448.8 274.6)" x="2.8" y="16.6" font-size="14" textLength="49.8" lengthAdjust="spacingAndGlyphs" fill="#fff" font-weight="700">RestAPI</text>
<polygon points="153.4,279.9 203.5,306.7 203.5,310.6 155.4,284.9" fill="rgba(120,150,200,0.18)" />
<polygon points="152.9,243.1 203.5,270.2 203.5,309.1 152.9,282.0" fill="#fff" />
<polyline points="152.9,243.1 203.5,270.2 203.5,309.1" fill="none" stroke="#2d5ce0" stroke-width="0.85"/>
<polygon points="153.4,246.9 200.5,272.1 200.5,305.1 153.4,279.9" fill="#2f6ce6" />
<text transform="matrix(1 0.535 0 1 153.4 246.9)" x="1.7" y="23.6" font-size="15" textLength="44.0" lengthAdjust="spacingAndGlyphs" fill="#fff" font-weight="700">Oracle</text>
</svg>
</body></html>
